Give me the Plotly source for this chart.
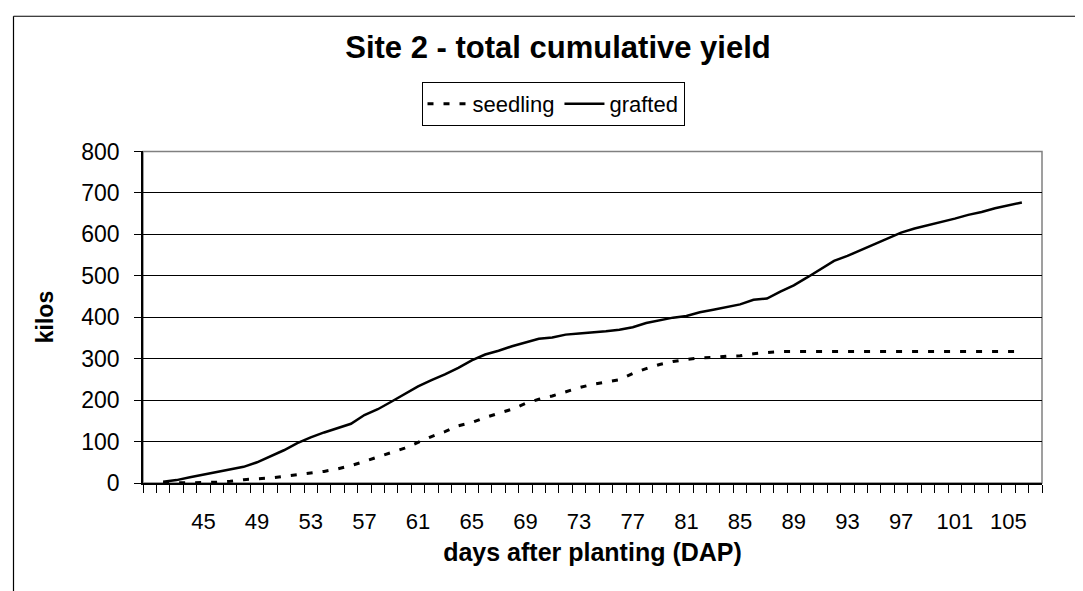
import plotly.graph_objects as go

days = [42, 43, 44, 45, 46, 47, 48, 49, 50, 51, 52, 53, 54, 55, 56, 57, 58, 59, 60,
        61, 62, 63, 64, 65, 66, 67, 68, 69, 70, 71, 72, 73, 74, 75, 76, 77, 78, 79,
        80, 81, 82, 83, 84, 85, 86, 87, 88, 89, 90, 91, 92, 93, 94, 95, 96, 97, 98,
        99, 100, 101, 102, 103, 104, 105, 106]

seedling = [0, 0, 0, 1, 2, 4, 8, 10, 12, 16, 20, 23, 28, 34, 42, 52, 63, 74, 84,
            98, 112, 124, 138, 146, 158, 168, 178, 192, 202, 210, 220, 230, 238, 244,
            249, 264, 276, 286, 293, 298, 302, 303, 306, 307, 312, 315, 317, 317, 317,
            317, 317, 317, 317, 317, 317, 317, 317, 317, 317, 317, 317, 317, 317, 317, 317]

grafted = [3, 7, 14, 20, 27, 33, 39, 50, 64, 79, 96, 110, 122, 132, 143, 164, 178, 196,
           214, 233, 248, 262, 278, 296, 310, 319, 330, 339, 348, 351, 358, 361, 363,
           366, 370, 376, 386, 393, 399, 403, 412, 418, 424, 431, 442, 445, 462, 477,
           496, 516, 536, 548, 562, 577, 590, 604, 614, 622, 629, 638, 647, 654, 663,
           670, 677]

x_tick_labels = [45, 49, 53, 57, 61, 65, 69, 73, 77, 81, 85, 89, 93, 97, 101, 105]
y_ticks = [0, 100, 200, 300, 400, 500, 600, 700, 800]

FONT = "Liberation Sans, Arial, sans-serif"
W, H = 1083, 591
L, R, T, B = 135, 49, 141.5, 116

fig = go.Figure()
fig.add_trace(go.Scatter(x=days, y=seedling, name="seedling", mode="lines",
                         line=dict(color="black", width=3, dash="6px,10px")))
fig.add_trace(go.Scatter(x=days, y=grafted, name="grafted", mode="lines",
                         line=dict(color="black", width=2.5)))

pw = W - L - R
ph = H - T - B
def px_to_paper_x(px):
    return (px - L) / pw
def px_to_paper_y(py):
    return (H - B - py) / ph

# outer chart frame (left and top edges visible in the crop)
fx, fy = px_to_paper_x(5.5), px_to_paper_y(5.5)
fig.add_shape(type="line", xref="paper", yref="paper",
              x0=fx, x1=fx, y0=px_to_paper_y(600), y1=fy,
              line=dict(color="black", width=1.2), layer="below")
fig.add_shape(type="line", xref="paper", yref="paper",
              x0=fx, x1=px_to_paper_x(1100), y0=fy, y1=fy,
              line=dict(color="black", width=1.2), layer="below")
# plot area border
fig.add_shape(type="rect", xref="paper", yref="paper", x0=0, x1=1, y0=0, y1=1,
              line=dict(color="#808080", width=1.5), layer="below")

# y-axis title
fig.add_annotation(text="<b>kilos</b>", xref="paper", yref="paper",
                   x=px_to_paper_x(37), y=0.5, xanchor="center", yanchor="middle",
                   textangle=-90, showarrow=False,
                   font=dict(family=FONT, size=23, color="black"))

fig.update_layout(
    width=W, height=H,
    margin=dict(l=L, r=R, t=T, b=B, pad=0),
    paper_bgcolor="white", plot_bgcolor="white",
    font=dict(family=FONT, color="black", size=20),
    title=dict(text="<b>Site 2 - total cumulative yield</b>",
               font=dict(family=FONT, size=31, color="black"),
               x=550 / W, xref="container", xanchor="center",
               y=1 - 39 / H, yref="container", yanchor="middle"),
    legend=dict(orientation="h", xref="container", yref="container",
                x=545 / W, xanchor="center", y=1 - 74 / H, yanchor="top",
                bordercolor="black", borderwidth=1, bgcolor="white",
                font=dict(family=FONT, size=22, color="black"),
                itemwidth=40, tracegroupgap=0),
    showlegend=True,
)

fig.update_xaxes(
    range=[40.5, 107.5],
    tickmode="array", tickvals=x_tick_labels, ticktext=[str(v) for v in x_tick_labels],
    ticks="outside", ticklen=8, tickcolor="rgba(0,0,0,0)",
    ticklabelstandoff=10,
    minor=dict(tick0=40.5, dtick=1, ticks="outside", ticklen=8, tickcolor="black",
               tickwidth=1, showgrid=False),
    showline=True, linecolor="black", linewidth=1.5,
    showgrid=False, zeroline=False,
    tickfont=dict(family=FONT, size=22, color="black"),
    title=dict(text="<b>days after planting (DAP)</b>", standoff=10,
               font=dict(family=FONT, size=25, color="black")),
)
fig.update_yaxes(
    range=[0, 800], tickmode="array", tickvals=y_ticks,
    ticks="outside", ticklen=7, tickcolor="black", tickwidth=1,
    ticklabelstandoff=10,
    showline=True, linecolor="black", linewidth=1.5,
    showgrid=True, gridcolor="black", gridwidth=1, zeroline=False,
    tickfont=dict(family=FONT, size=23, color="black"),
)

fig.write_html("out.html")
